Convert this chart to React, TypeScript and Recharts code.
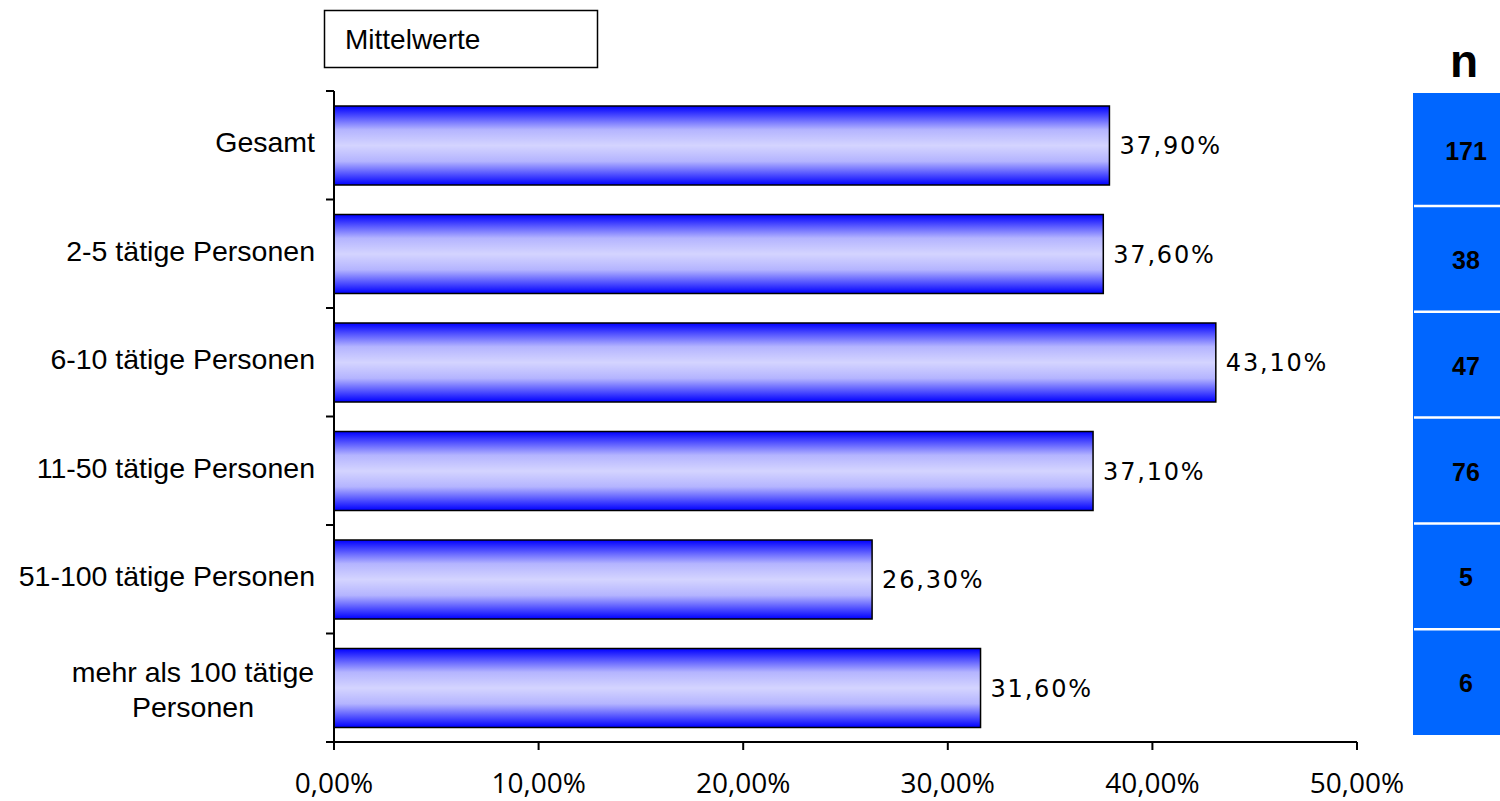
import React from "react";
import { BarChart, Bar, XAxis, YAxis, LabelList } from "recharts";

const categories = [
  "Gesamt",
  "2-5 tätige Personen",
  "6-10 tätige Personen",
  "11-50 tätige Personen",
  "51-100 tätige Personen",
  "mehr als 100 tätige\nPersonen",
];
const meanValues = [37.9, 37.6, 43.1, 37.1, 26.3, 31.6];
const nValues = [171, 38, 47, 76, 5, 6];
const xTicks = [0, 10, 20, 30, 40, 50];
const boxTitle = "Mittelwerte";
const nTitle = "n";

const data = categories.map((name, i) => ({ name, value: meanValues[i] }));

const W = 1500;
const H = 801;
const M = { top: 91, right: 143, bottom: 0, left: 0 };
const Y_AXIS_W = 334;
const X_AXIS_H = 59;
const PLOT_H = H - M.top - X_AXIS_H;
const BAND = PLOT_H / categories.length;
const AXIS_X = M.left + Y_AXIS_W;

const fmt = (v: number) => v.toFixed(2).replace(".", ",") + "%";

const YTick = (props: any) => {
  const { y, payload, index } = props;
  const lines = String(payload.value).split("\n");
  const right = AXIS_X - 19;
  const isLast = index === categories.length - 1;
  return (
    <g>
      <line x1={AXIS_X - 8} x2={AXIS_X} y1={y - BAND / 2} y2={y - BAND / 2} stroke="#000" strokeWidth={2} />
      {isLast && (
        <line x1={AXIS_X - 8} x2={AXIS_X} y1={y + BAND / 2} y2={y + BAND / 2} stroke="#000" strokeWidth={2} />
      )}
      {lines.length === 1 ? (
        <text x={right} y={y + 7} textAnchor="end" fontFamily="Liberation Sans, Arial, sans-serif" fontSize={28.5} fill="#000">
          {lines[0]}
        </text>
      ) : (
        <text textAnchor="middle" fontFamily="Liberation Sans, Arial, sans-serif" fontSize={28.5} fill="#000">
          {lines.map((l, i) => (
            <tspan key={i} x={right - 122} y={y - 6 + i * 35}>
              {l}
            </tspan>
          ))}
        </text>
      )}
    </g>
  );
};

const ValueLabel = (props: any) => {
  const { x, y, width, height, value } = props;
  return (
    <text
      x={x + width + 10}
      y={y + height / 2 + 8.5}
      fontFamily="DejaVu Sans, sans-serif"
      fontSize={24}
      letterSpacing={1.8}
      fill="#000"
    >
      {fmt(value)}
    </text>
  );
};

export default function App() {
  const rowTop = 93;
  const rowFirstEnd = 206;
  const rowBottom = 735;
  const rowH = (rowBottom - rowFirstEnd) / (nValues.length - 1);
  const rowBounds = [rowTop, ...nValues.map((_, i) => rowFirstEnd + i * rowH)];
  rowBounds[rowBounds.length - 1] = rowBottom;

  return (
    <div style={{ position: "absolute", left: 0, top: 0, width: W, height: H, background: "#fff" }}>
      <BarChart width={W} height={H} data={data} layout="vertical" margin={M} barSize={79}>
        <defs>
          <linearGradient id="barGrad" x1="0" y1="0" x2="0" y2="1">
            <stop offset="0" stopColor="#0000ff" />
            <stop offset="0.3" stopColor="#b4b4ff" />
            <stop offset="0.5" stopColor="#d4d4ff" />
            <stop offset="0.7" stopColor="#b4b4ff" />
            <stop offset="1" stopColor="#0000ff" />
          </linearGradient>
        </defs>
        <XAxis
          type="number"
          domain={[0, 50]}
          ticks={xTicks}
          tickFormatter={fmt}
          height={X_AXIS_H}
          axisLine={{ stroke: "#000", strokeWidth: 2 }}
          tickLine={{ stroke: "#000", strokeWidth: 2 }}
          tickSize={8}
          tickMargin={23}
          tick={{ fill: "#000", fontSize: 28, fontFamily: "Open Sans, sans-serif" }}
          interval={0}
        />
        <YAxis
          type="category"
          dataKey="name"
          width={Y_AXIS_W}
          axisLine={{ stroke: "#000", strokeWidth: 2 }}
          tickLine={false}
          tick={<YTick />}
          interval={0}
        />
        <Bar dataKey="value" fill="url(#barGrad)" stroke="#000" strokeWidth={1.5} isAnimationActive={false}>
          <LabelList dataKey="value" content={<ValueLabel />} />
        </Bar>
      </BarChart>
      <svg width={W} height={H} style={{ position: "absolute", left: 0, top: 0, pointerEvents: "none" }}>
        <rect x={324.5} y={10.5} width={273} height={57} fill="#fff" stroke="#000" strokeWidth={1.5} />
        <text x={345} y={49} fontFamily="Liberation Sans, Arial, sans-serif" fontSize={28} fill="#000">
          {boxTitle}
        </text>
        <text x={1464} y={77} textAnchor="middle" fontFamily="Liberation Sans, Arial, sans-serif" fontWeight="bold" fontSize={46} fill="#000">
          {nTitle}
        </text>
        <rect x={1413} y={rowTop} width={W - 1413} height={rowBottom - rowTop} fill="#0066ff" />
        {rowBounds.slice(1, -1).map((b, i) => (
          <line key={i} x1={1414} x2={W} y1={b} y2={b} stroke="#fff" strokeWidth={2.5} />
        ))}
        {nValues.map((n, i) => (
          <text
            key={i}
            x={1466}
            y={(rowBounds[i] + rowBounds[i + 1]) / 2 + 10}
            textAnchor="middle"
            fontFamily="Liberation Sans, Arial, sans-serif"
            fontWeight="bold"
            fontSize={25}
            fill="#000"
          >
            {n}
          </text>
        ))}
      </svg>
    </div>
  );
}
